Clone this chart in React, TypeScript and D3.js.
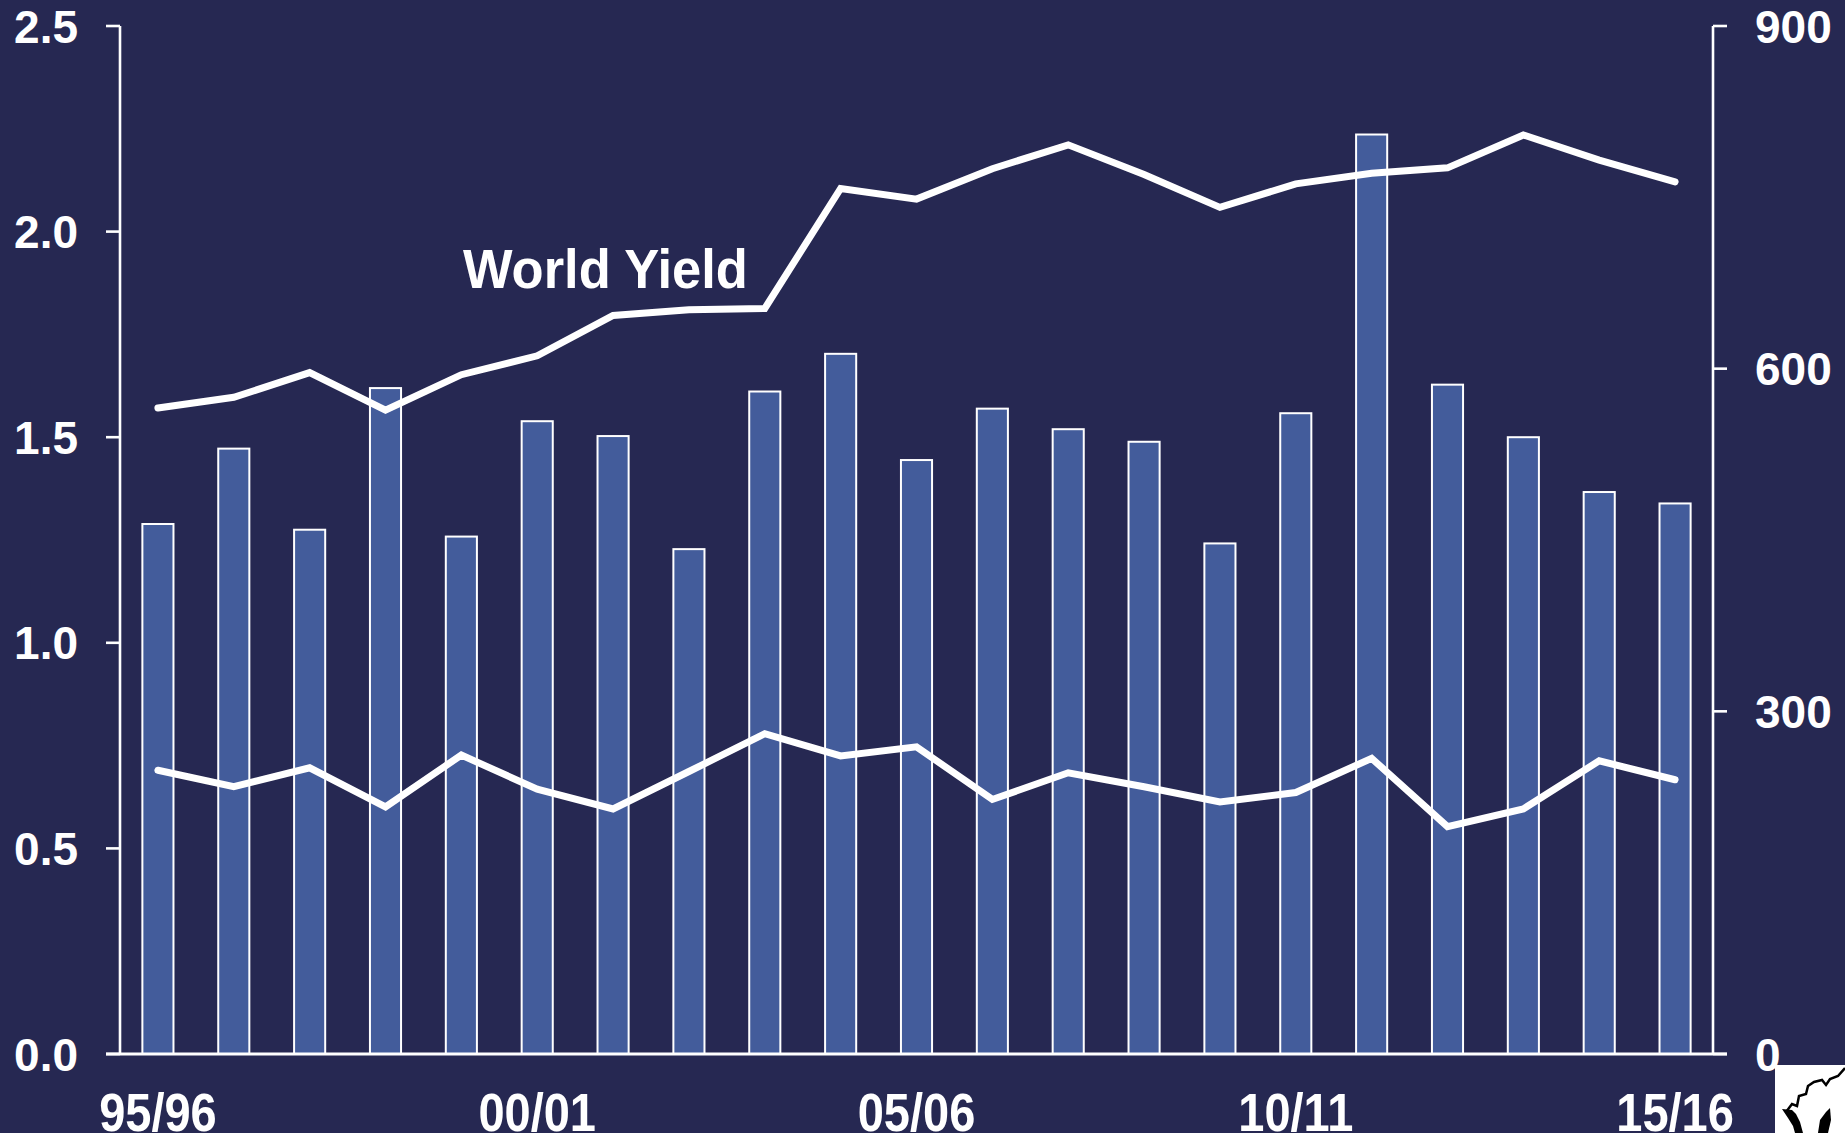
import React from "react";
import * as d3 from "d3";

const seasons = [
  "95/96", "96/97", "97/98", "98/99", "99/00", "00/01", "01/02", "02/03", "03/04", "04/05",
  "05/06", "06/07", "07/08", "08/09", "09/10", "10/11", "11/12", "12/13", "13/14", "14/15", "15/16",
];
const shownLabels = ["95/96", "00/01", "05/06", "10/11", "15/16"];

// bars, right axis
const barValues = [
  464, 530, 459, 583, 453, 554, 541, 442, 580, 613, 520, 565, 547, 536, 447, 561, 805, 586, 540, 492, 482,
];
// upper line "World Yield", left axis
const worldYield = [
  1.571, 1.597, 1.657, 1.566, 1.652, 1.698, 1.796, 1.810, 1.813, 2.105, 2.079, 2.153, 2.211, 2.139, 2.059,
  2.116, 2.142, 2.155, 2.235, 2.174, 2.121,
];
// lower line, left axis
const lowerLine = [
  0.690, 0.650, 0.696, 0.601, 0.727, 0.644, 0.596, 0.687, 0.779, 0.725, 0.747, 0.619, 0.684, 0.650, 0.613,
  0.636, 0.719, 0.553, 0.596, 0.713, 0.667,
];
const leftTicks = [0, 0.5, 1.0, 1.5, 2.0, 2.5];
const rightTicks = [0, 300, 600, 900];

const W = 1845;
const H = 1133;
const BG = "#262852";
const BAR = "#435c9b";
const FONT = "'Liberation Sans', Arial, sans-serif";

export default function App() {
  const x0 = 120;
  const x1 = 1713;
  const yTop = 26;
  const yBase = 1054;

  const x = d3
    .scaleBand<string>()
    .domain(seasons)
    .range([x0, x1])
    .paddingInner(0.59)
    .paddingOuter(0.295);
  const yL = d3.scaleLinear().domain([0, 2.5]).range([yBase, yTop]);
  const yR = d3.scaleLinear().domain([0, 900]).range([yBase, yTop]);
  const cx = (s: string) => (x(s) as number) + x.bandwidth() / 2;

  const line = d3
    .line<number>()
    .x((_, i) => cx(seasons[i]))
    .y((d) => yL(d));

  return (
    <div style={{ position: "fixed", left: 0, top: 0, width: W, height: H }}>
      <svg width={W} height={H} style={{ display: "block" }}>
        <rect x={0} y={0} width={W} height={H} fill={BG} />

        {/* bars */}
        {barValues.map((v, i) => (
          <rect
            key={i}
            x={x(seasons[i])}
            y={yR(v)}
            width={x.bandwidth()}
            height={yBase - yR(v)}
            fill={BAR}
            stroke="#ffffff"
            strokeWidth={2}
          />
        ))}

        {/* axes */}
        <line x1={x0} x2={x0} y1={yTop} y2={yBase} stroke="#fff" strokeWidth={2.6} />
        <line x1={x1} x2={x1} y1={yTop} y2={yBase} stroke="#fff" strokeWidth={2.6} />
        <line x1={x0 - 14} x2={x1 + 14} y1={yBase} y2={yBase} stroke="#fff" strokeWidth={2.8} />
        {leftTicks.map((t) => (
          <g key={"l" + t}>
            <line x1={x0 - 14} x2={x0} y1={yL(t)} y2={yL(t)} stroke="#fff" strokeWidth={2.6} />
            <text
              x={78}
              y={yL(t) + 16.5}
              textAnchor="end"
              fill="#fff"
              fontFamily={FONT}
              fontWeight="bold"
              fontSize={46}
            >
              {t.toFixed(1)}
            </text>
          </g>
        ))}
        {rightTicks.map((t) => (
          <g key={"r" + t}>
            <line x1={x1} x2={x1 + 14} y1={yR(t)} y2={yR(t)} stroke="#fff" strokeWidth={2.6} />
            <text
              x={1755}
              y={yR(t) + 16.5}
              textAnchor="start"
              fill="#fff"
              fontFamily={FONT}
              fontWeight="bold"
              fontSize={46}
            >
              {t}
            </text>
          </g>
        ))}
        {shownLabels.map((s) => (
          <text
            key={s}
            transform={`translate(${cx(s)},1131) scale(1,1.15)`}
            textAnchor="middle"
            fill="#fff"
            fontFamily={FONT}
            fontWeight="bold"
            fontSize={47}
          >
            {s}
          </text>
        ))}

        {/* lines */}
        <path
          d={line(worldYield) || ""}
          fill="none"
          stroke="#fff"
          strokeWidth={7}
          strokeLinecap="round"
          strokeLinejoin="miter"
        />
        <path
          d={line(lowerLine) || ""}
          fill="none"
          stroke="#fff"
          strokeWidth={7}
          strokeLinecap="round"
          strokeLinejoin="miter"
        />

        <text
          transform="translate(463,288) scale(1,1.05)"
          fill="#fff"
          fontFamily={FONT}
          fontWeight="bold"
          fontSize={52.5}
        >
          World Yield
        </text>

        {/* logo corner */}
        <rect x={1775} y={1065} width={70} height={68} fill="#fff" />
        <path
          d="M1786,1112 L1792,1104 L1797,1106 L1799,1096 L1806,1094 L1808,1086 L1814,1082 L1822,1080 L1826,1085 L1830,1079 L1838,1076 L1845,1068"
          fill="none"
          stroke="#000"
          strokeWidth={2.5}
        />
        <path
          d="M1782,1109 L1788,1118 L1793,1126 L1795,1133 L1803,1133 L1800,1122 L1796,1114 L1792,1110 Z"
          fill="#000"
        />
        <path d="M1818,1133 L1820,1120 L1826,1112 L1830,1108 L1831,1120 L1828,1133 Z" fill="#000" />
      </svg>
    </div>
  );
}
